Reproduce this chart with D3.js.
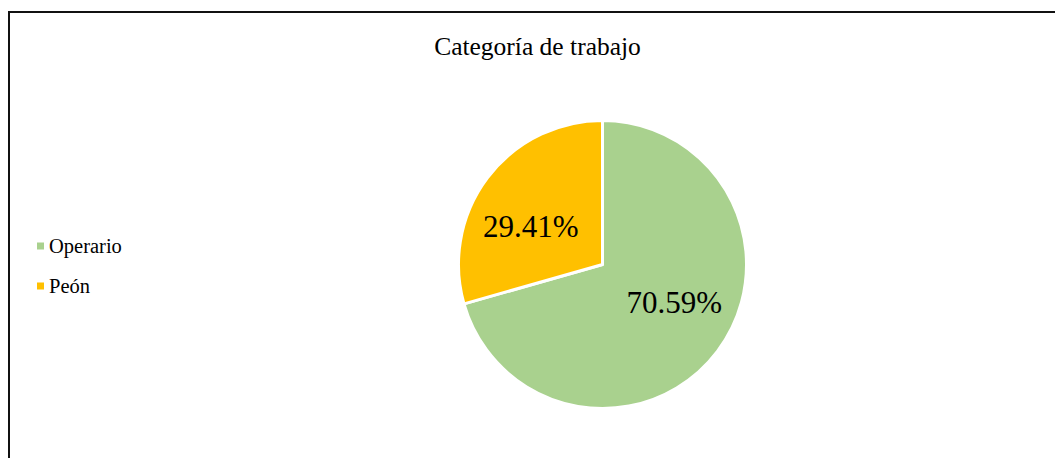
<!DOCTYPE html>
<html>
<head>
<meta charset="utf-8">
<script src="https://cdn.jsdelivr.net/npm/d3@7"></script>
<style>
    html, body { margin: 0; padding: 0; background: #fff; }
    #chart { width: 1055px; height: 458px; }
</style>
</head>
<body>
<div id="chart"></div>
<script>
'use strict';

// data
const categories = ["Operario", "Peón"];
const percentages = [70.59, 29.41];
const colors = ["#A9D18E", "#FFC000"];
const chartTitle = "Categoría de trabajo";

const width = 1055, height = 458;
const serif = "'Liberation Serif', 'Times New Roman', Times, serif";

const svg = d3.select("#chart")
    .append("svg")
    .attr("width", width)
    .attr("height", height)
    .attr("font-family", serif)
    .style("font-family", serif);

// frame of the chart area (runs off the bottom/right of the picture)
svg.append("rect")
    .attr("x", 9)
    .attr("y", 12)
    .attr("width", width + 20)
    .attr("height", height + 20)
    .attr("fill", "#fff")
    .attr("stroke", "#111")
    .attr("stroke-width", 2);

// title
svg.append("text")
    .attr("x", 537.5)
    .attr("y", 55)
    .attr("text-anchor", "middle")
    .attr("fill", "#000")
    .style("font-size", "25.5px")
    .text(chartTitle);

// pie
const cx = 602.5, cy = 264.5, radius = 144;
const color = d3.scaleOrdinal().domain(categories).range(colors);

const pie = d3.pie()
    .sort(null)
    .value((d, i) => percentages[i]);

const arc = d3.arc().innerRadius(0).outerRadius(radius);
const labelArc = d3.arc().innerRadius(90).outerRadius(90);

const pieG = svg.append("g")
    .attr("transform", "translate(" + cx + "," + cy + ")");

const slices = pie(categories);

pieG.selectAll("path.slice")
    .data(slices)
    .enter()
    .append("path")
    .attr("class", "slice")
    .attr("d", arc)
    .attr("fill", d => color(d.data))
    .attr("stroke", "#fff")
    .attr("stroke-width", 3)
    .attr("stroke-linejoin", "round");

// data labels (Excel best-fit, roughly)
pieG.selectAll("text.label")
    .data(slices)
    .enter()
    .append("text")
    .attr("class", "label")
    .attr("x", d => labelArc.centroid(d)[0])
    .attr("y", d => labelArc.centroid(d)[1] * 0.7)
    .attr("text-anchor", "middle")
    .attr("dy", "0.35em")
    .attr("fill", "#000")
    .style("font-size", "31px")
    .text((d, i) => percentages[i].toFixed(2) + "%");

// legend
const legendY = d3.scalePoint()
    .domain(categories)
    .range([246, 286]);

const legend = svg.selectAll("g.legend")
    .data(categories)
    .enter()
    .append("g")
    .attr("class", "legend")
    .attr("transform", d => "translate(37," + legendY(d) + ")");

legend.append("rect")
    .attr("x", 0)
    .attr("y", -3.5)
    .attr("width", 7)
    .attr("height", 7)
    .attr("fill", d => color(d));

legend.append("text")
    .attr("x", 12)
    .attr("y", 6.5)
    .attr("fill", "#000")
    .style("font-size", "20.5px")
    .text(d => d);
</script>
</body>
</html>
